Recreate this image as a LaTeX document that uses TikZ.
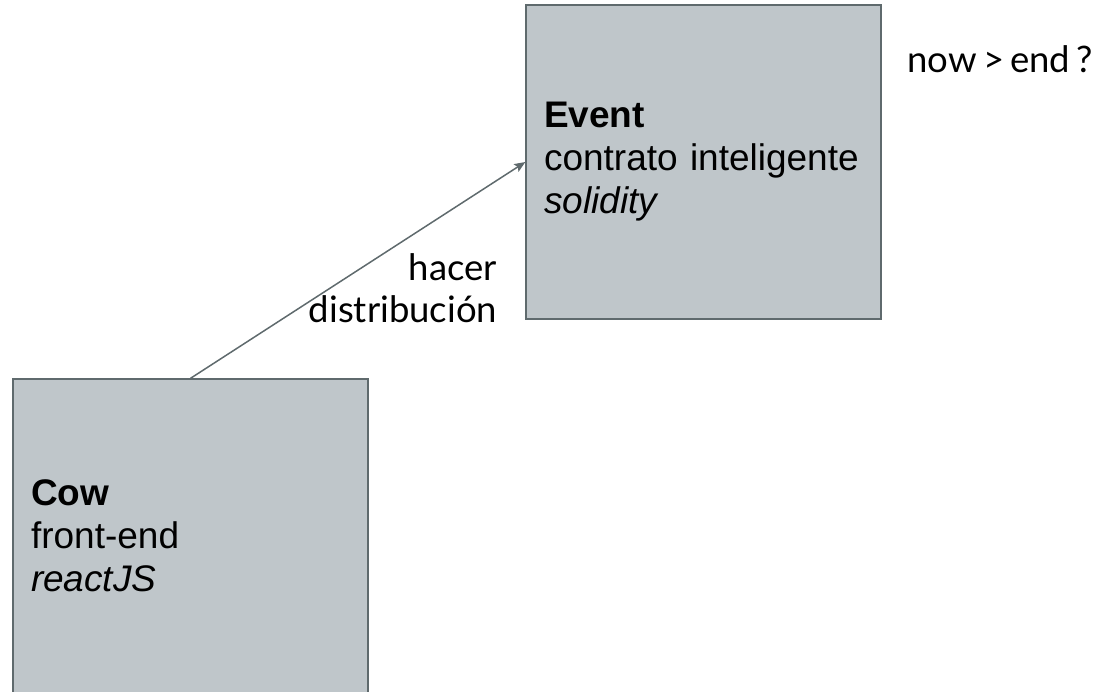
\documentclass[tikz,border=0pt]{standalone}
\usepackage{fontspec}
\setmainfont{Liberation Sans}
\newfontfamily\latofont{Lato}
\usetikzlibrary{arrows.meta, positioning}
\definecolor{boxcol}{RGB}{191,198,202}
\definecolor{boxborder}{RGB}{95,106,109}
\definecolor{arrowcol}{RGB}{95,106,109}
\tikzset{
  comp/.style={rectangle, draw=boxborder, fill=boxcol, line width=1.3pt,
    minimum width=355pt, minimum height=314pt, text width=319pt,
    inner xsep=18pt, align=left,
    font=\fontsize{37}{43}\selectfont},
  lbl/.style={inner sep=0pt, font=\latofont\fontsize{36.5}{42}\selectfont},
  arr/.style={-{Stealth[length=11pt, width=9pt, inset=2pt]}, line width=1.5pt, color=arrowcol},
}
\begin{document}
\begin{tikzpicture}[x=1pt, y=-1pt]
  \useasboundingbox (0,0) rectangle (1101,692);

  \node[comp] (event) at (703.5,162) {
    \textbf{Event}\\
    contrato inteligente\\
    \textit{solidity}
  };

  \node[comp] (cow) at (190.5,536) {
    \textbf{Cow}\\
    front-end\\
    \textit{reactJS}
  };

  % flow
  \draw[arr] (cow.north) -- (event.west);

  % labels
  \node[lbl, align=right, anchor=south east]
    at ([xshift=-28pt, yshift=-3pt]event.south west) (distlbl) {hacer\\distribución};
  \node[lbl, anchor=base east] (checklbl) at (1093,73) {now\,>\,end\,?};

\end{tikzpicture}
\end{document}
